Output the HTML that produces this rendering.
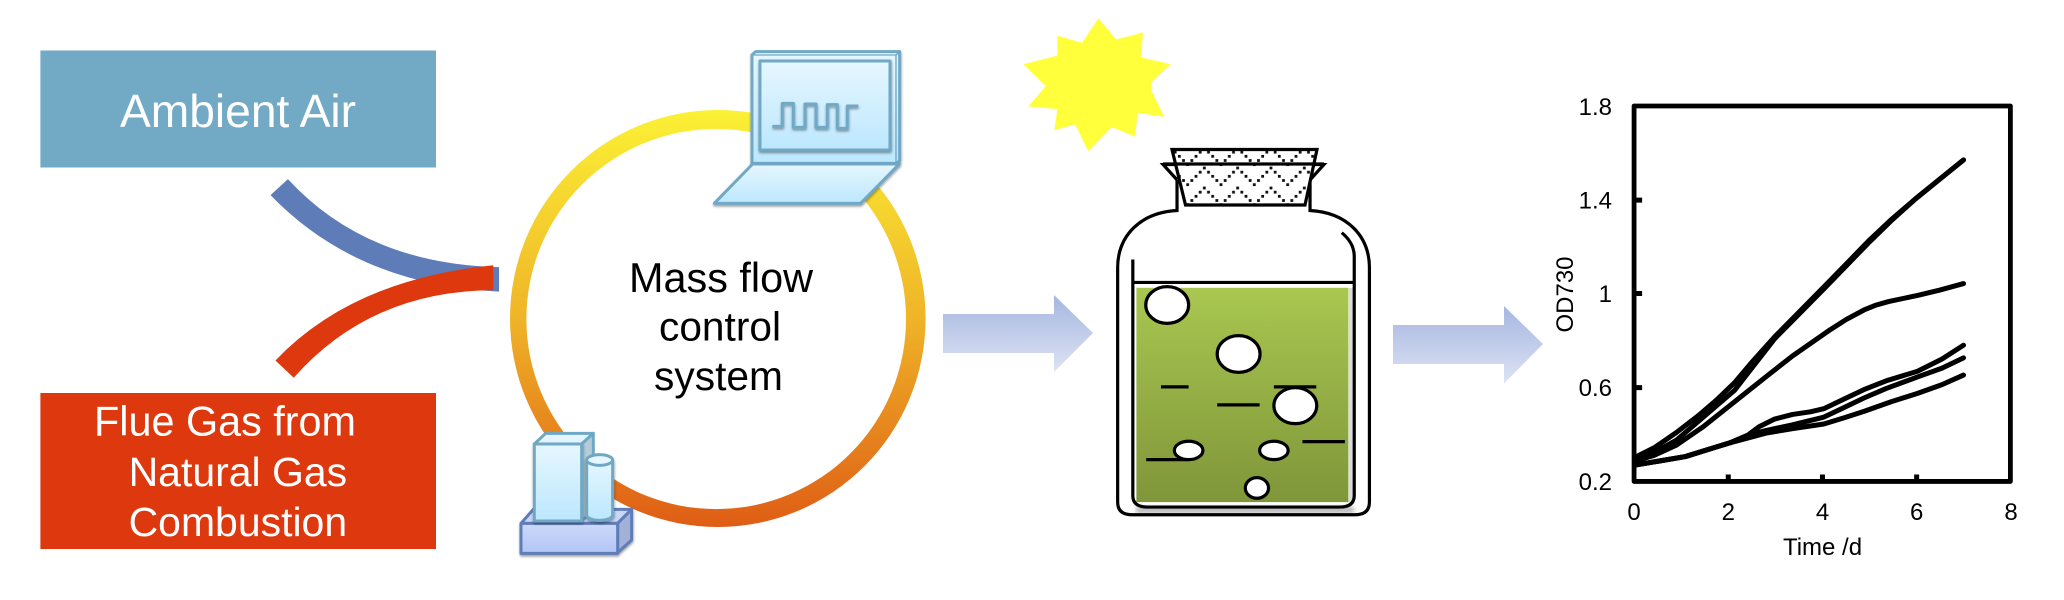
<!DOCTYPE html>
<html><head><meta charset="utf-8"><style>
html,body{margin:0;padding:0;background:#fff;width:2064px;height:600px;overflow:hidden}
svg{display:block}
text{font-family:"Liberation Sans",sans-serif}
.ns{vector-effect:non-scaling-stroke}
</style></head><body>
<svg width="2064" height="600" viewBox="0 0 2064 600" xmlns="http://www.w3.org/2000/svg">
<defs>
<linearGradient id="ring" x1="0" y1="0" x2="0" y2="1"><stop offset="0" stop-color="#FBF135"/><stop offset=".5" stop-color="#EFB428"/><stop offset="1" stop-color="#DF5D15"/></linearGradient>
<linearGradient id="arrow" x1="0" y1="0" x2="0" y2="1"><stop offset="0" stop-color="#A6B6E0"/><stop offset="1" stop-color="#DDE3F4"/></linearGradient>
<linearGradient id="ice" x1="0" y1="0" x2="0" y2="1"><stop offset="0" stop-color="#E6F7FF"/><stop offset="1" stop-color="#BCE7FE"/></linearGradient>
<linearGradient id="peri" x1="0" y1="0" x2="0" y2="1"><stop offset="0" stop-color="#CDD9FA"/><stop offset="1" stop-color="#B2C5F8"/></linearGradient>
<linearGradient id="green" x1="0" y1="0" x2="0" y2="1"><stop offset="0" stop-color="#A9C751"/><stop offset="1" stop-color="#7F9639"/></linearGradient>
<filter id="sh" x="-20%" y="-20%" width="140%" height="145%"><feDropShadow dx="1" dy="5" stdDeviation="4" flood-color="#000" flood-opacity=".4"/></filter>
<filter id="soft" x="-5%" y="-5%" width="110%" height="110%"><feGaussianBlur stdDeviation=".8"/></filter>
<filter id="blur2" x="-10%" y="-100%" width="120%" height="300%"><feGaussianBlur stdDeviation="2"/></filter>
<pattern id="zig" patternUnits="userSpaceOnUse" x="1171" y="148" width="33.33" height="20">
<rect width="33.33" height="20" fill="#fff"/>
<g fill="#111">
<rect x="-1.4" y="-1.4" width="2.8" height="2.8"/><rect x="31.93" y="-1.4" width="2.8" height="2.8"/><rect x="-1.4" y="18.6" width="2.8" height="2.8"/><rect x="31.93" y="18.6" width="2.8" height="2.8"/>
<rect x="2.77" y="2.77" width="2.8" height="2.8"/>
<rect x="6.93" y="6.93" width="2.8" height="2.8"/>
<rect x="11.1" y="11.1" width="2.8" height="2.8"/>
<rect x="15.27" y="15.27" width="2.8" height="2.8"/>
<rect x="19.43" y="11.1" width="2.8" height="2.8"/>
<rect x="23.6" y="6.93" width="2.8" height="2.8"/>
<rect x="27.77" y="2.77" width="2.8" height="2.8"/>
</g>
</pattern>
</defs>

<!-- boxes -->
<rect x="40.4" y="50.5" width="395.6" height="117" fill="#72AAC5"/>
<text x="120" y="127" font-size="46" fill="#fff" textLength="236" lengthAdjust="spacingAndGlyphs">Ambient Air</text>
<rect x="40.4" y="393" width="395.6" height="156" fill="#DD380E"/>
<text x="94" y="435.5" font-size="41.5" fill="#fff" textLength="262" lengthAdjust="spacingAndGlyphs">Flue Gas from</text>
<text x="128.6" y="486" font-size="41" fill="#fff" textLength="218.5" lengthAdjust="spacingAndGlyphs">Natural Gas</text>
<text x="128.6" y="536" font-size="41" fill="#fff" textLength="218.5" lengthAdjust="spacingAndGlyphs">Combustion</text>

<!-- merging curves -->
<g transform="scale(.4464,.3827)">
<path d="M645,468 Q820,690 1118,698 L1118,762 Q800,745 606,510 Z" fill="#5E7DB8"/>
<path d="M617,942 Q790,730 1105,693 L1105,758 Q830,760 658,987 Z" fill="#DD380E"/>
</g>

<!-- ring -->
<path fill-rule="evenodd" fill="url(#ring)" d="M510,318.5 A207.8,208.5 0 1 1 925.6,318.5 A207.8,208.5 0 1 1 510,318.5 Z M526.4,319 A189.8,190 0 1 0 906,319 A189.8,190 0 1 0 526.4,319 Z"/>
<text x="629" y="292" font-size="41.5" fill="#000" textLength="184" lengthAdjust="spacingAndGlyphs">Mass flow</text>
<text x="659" y="340.6" font-size="41" fill="#000" textLength="122" lengthAdjust="spacingAndGlyphs">control</text>
<text x="654" y="390" font-size="41" fill="#000" textLength="129" lengthAdjust="spacingAndGlyphs">system</text>

<!-- laptop -->
<g transform="translate(690,30) scale(.3333)" stroke="#6FA8C5" stroke-width="9" stroke-linejoin="round">
<g filter="url(#sh)">
<path d="M186,75 L197,65 L629,65 L629,392 L620,400 L186,400 Z" fill="url(#ice)"/>
<path d="M186,75 L618,75 L618,400 M618,75 L629,65" fill="none" stroke-width="4"/>
</g>
<rect x="210" y="93" width="390" height="267" fill="url(#ice)" filter="url(#sh)"/>
<polygon points="188,402 628,402 512,520 73,520" fill="url(#ice)" filter="url(#sh)"/>
<polyline filter="url(#sh)" fill="none" stroke-width="9" points="247,289 277,289 277,220 310,220 310,292 345,292 345,222 378,222 378,292 412,292 412,224 442,224 442,295 472,295 472,228 505,228"/>
</g>

<!-- process icon -->
<g transform="translate(480,420) scale(.3333)" stroke-width="9" stroke-linejoin="round">
<g stroke="#5F7DB8" filter="url(#sh)">
<polygon points="123,310 160,268 455,268 413,310" fill="#C9D6F8"/>
<polygon points="413,310 455,268 455,360 413,398" fill="#A2B1D8"/>
<rect x="123" y="310" width="290" height="90" fill="url(#peri)"/>
</g>
<g stroke="#6FA8C5">
<polygon points="163,72 197,40 340,40 305,72" fill="#E3F6FF"/>
<polygon points="305,72 340,40 340,272 305,303" fill="#B5CCD8"/>
<rect x="163" y="72" width="142" height="231" fill="url(#ice)" filter="url(#sh)"/>
<path d="M320,120 L320,285 A39,16 0 0 0 398,285 L398,120 Z" fill="url(#ice)" filter="url(#sh)"/>
<ellipse cx="359" cy="120" rx="39" ry="16" fill="#E6F7FF"/>
</g>
</g>

<!-- arrows -->
<polygon points="943,314 1054,314 1054,295 1093,333 1054,372 1054,353 943,353" fill="url(#arrow)"/>
<polygon points="1393,325 1504,325 1504,306 1543,344 1504,383.5 1504,364 1393,364" fill="url(#arrow)"/>

<!-- jar shadow -->
<rect x="1136" y="507" width="218" height="6" fill="#777" opacity=".55" filter="url(#blur2)"/>
<rect x="1349" y="288" width="5" height="216" fill="#999" opacity=".35"/>

<!-- sun + jar -->
<g transform="translate(690,0) scale(.4464,.3827)">
<polygon fill="#FFFF3B" points="915,48 955,103 1015,85 1010,150 1077,168 1033,215 1033,235 1062,305 1003,295 997,357 945,332 892,395 863,325 816,340 823,285 758,278 797,225 747,168 823,145 823,93 878,112"/>
<rect x="1000" y="752" width="475" height="560" fill="url(#green)" filter="url(#soft)"/>
<g fill="none" stroke="#000" stroke-width="3.2">
<path class="ns" d="M1091,470 L1091,550 C1010,555 958,615 958,700 L958,1312 Q958,1345 990,1345 L1490,1345 Q1522,1345 1522,1312 L1522,700 C1522,615 1470,555 1389,550 L1389,470"/>
<path class="ns" d="M1091,470 L1060,430 L1420,430 L1389,470"/>
<path class="ns" d="M992,678 L992,1295 Q992,1325 1025,1325 L1455,1325 Q1488,1325 1488,1295 L1488,670 Q1488,635 1460,608"/>
<path class="ns" d="M992,738 L1488,738"/>
<path class="ns" d="M1055,1011 H1117 M1181,1058 H1276 M1308,1011 H1403 M1372,1154 H1467 M1022,1201 H1117"/>
</g>
<g fill="#fff" stroke="#000" stroke-width="3.2">
<ellipse class="ns" cx="1069" cy="797" rx="48" ry="48"/>
<ellipse class="ns" cx="1229" cy="925" rx="48" ry="48"/>
<ellipse class="ns" cx="1356" cy="1060" rx="48" ry="47"/>
<ellipse class="ns" cx="1117" cy="1177" rx="32" ry="24"/>
<ellipse class="ns" cx="1308" cy="1177" rx="32" ry="24"/>
<ellipse class="ns" cx="1270" cy="1275" rx="26" ry="27"/>
</g>
</g>
<polygon points="1172,149.5 1317,149.5 1305,205 1185.5,205" fill="url(#zig)" stroke="#000" stroke-width="3.2"/>
<path d="M1163,164 H1324" stroke="#000" stroke-width="3.2" fill="none"/>

<!-- chart -->
<g transform="translate(1364,0) scale(.4464,.3827)">
<rect x="605" y="277" width="843" height="981" fill="none" stroke="#000" stroke-width="4.8" stroke-linejoin="round" class="ns"/>
<path class="ns" d="M605,523 H623 M605,767 H623 M605,1013 H623 M816,1258 V1240 M1027,1258 V1240 M1238,1258 V1240" stroke="#000" stroke-width="5" fill="none"/>
<g fill="none" stroke="#000" stroke-width="5" stroke-linecap="round" stroke-linejoin="round">
<polyline class="ns" points="607,1195 650,1170 700,1130 750,1085 790,1045 830,1000 870,945 920,880 975,815 1030,750 1080,690 1130,630 1180,575 1235,520 1290,468 1343,418"/>
<polyline class="ns" points="607,1203 650,1183 700,1150 750,1100 790,1060 830,1020 870,960 920,885 975,820 1030,755 1080,695 1130,635 1180,578 1235,520 1290,468 1343,418"/>
<polyline class="ns" points="607,1205 650,1190 700,1163 760,1115 830,1050 900,985 960,930 1040,865 1080,835 1120,810 1145,798 1175,788 1240,772 1290,758 1343,741"/>
<polyline class="ns" points="607,1215 660,1205 720,1193 770,1175 820,1157 860,1137 885,1115 920,1095 960,1083 1000,1076 1030,1068 1075,1043 1120,1018 1170,995 1240,970 1295,938 1343,902"/>
<polyline class="ns" points="607,1215 660,1205 720,1193 770,1175 820,1157 860,1137 900,1125 960,1110 1030,1090 1075,1065 1120,1040 1170,1015 1240,985 1295,962 1343,935"/>
<polyline class="ns" points="607,1215 660,1205 720,1193 770,1175 820,1157 900,1132 960,1120 1030,1108 1075,1092 1120,1075 1180,1050 1240,1028 1295,1005 1343,980"/>
</g>
</g>
<g font-size="24" fill="#000" text-anchor="end">
<text x="1612" y="115">1.8</text>
<text x="1612" y="208.5">1.4</text>
<text x="1612" y="302">1</text>
<text x="1612" y="396">0.6</text>
<text x="1612" y="490">0.2</text>
</g>
<g font-size="24" fill="#000" text-anchor="middle">
<text x="1634" y="520">0</text>
<text x="1728.3" y="520">2</text>
<text x="1822.5" y="520">4</text>
<text x="1916.7" y="520">6</text>
<text x="2011" y="520">8</text>
<text x="1822.5" y="555">Time /d</text>
<text transform="translate(1573,294.5) rotate(-90)">OD730</text>
</g>
</svg>
</body></html>
